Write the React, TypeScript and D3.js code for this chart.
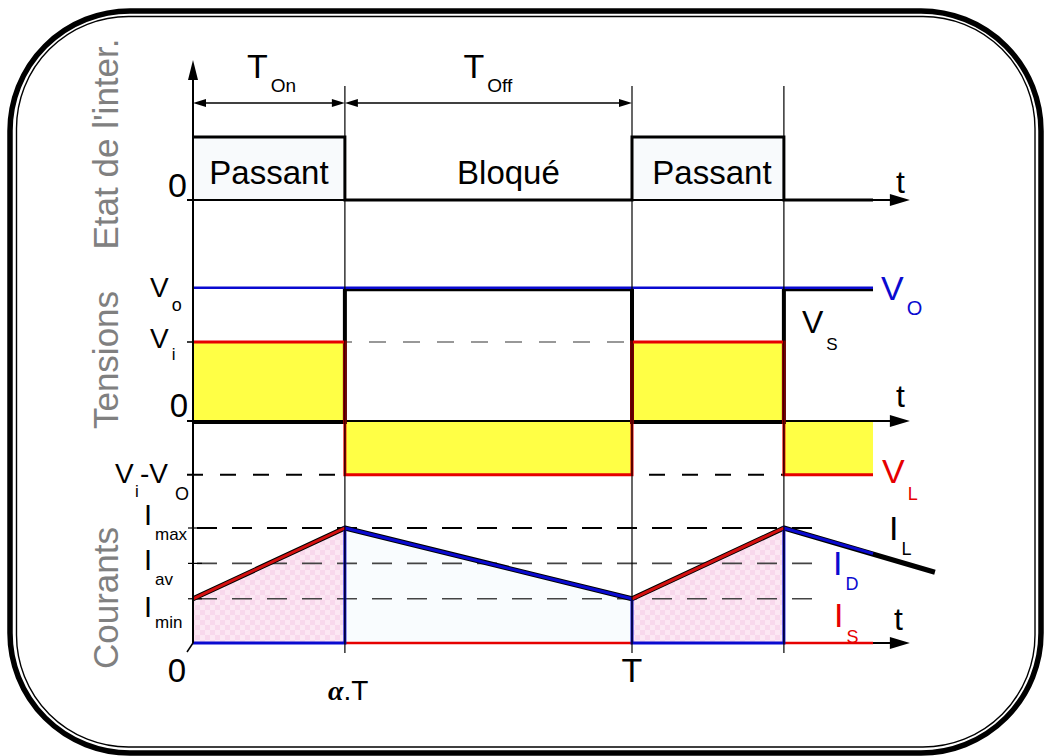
import React from "react";
import * as d3 from "d3";

// time in units of the period T
const ALPHA = 0.346;
const T_AXIS_END = 1.633;
const T_WAVE_END = 1.549;
const T_DASH_END = 1.428;
const guideTimes = [ALPHA, 1, 1 + ALPHA];

// switch state (1 = Passant, 0 = Bloqué)
const stateT = [0, ALPHA, ALPHA, 1, 1, 1 + ALPHA, 1 + ALPHA, T_WAVE_END];
const stateValues = [1, 1, 0, 0, 1, 1, 0, 0];
const stateLabels = ["Passant", "Bloqué", "Passant"];

// voltages, in units of Vi
const Vi = 1;
const Vo = 1.68;
const vT = [0, ALPHA, ALPHA, 1, 1, 1 + ALPHA, 1 + ALPHA, T_WAVE_END];
const vsValues = [0, 0, Vo, Vo, 0, 0, Vo, Vo];
const vlValues = [Vi, Vi, Vi - Vo, Vi - Vo, Vi, Vi, Vi - Vo, Vi - Vo];

// currents
const Imin = 1.0;
const Iav = 1.8;
const Imax = 2.6;
const ilT = [0, ALPHA, 1, 1 + ALPHA, 1.69];
const ilValues = [Imin, Imax, Imin, Imax, 1.6];
const idT = [0, ALPHA, ALPHA, 1, 1, 1 + ALPHA, 1 + ALPHA, T_WAVE_END];
const idValues = [0, 0, Imax, Imin, 0, 0, Imax, 2.02];
const isRamps = [
  [[0, Imin], [ALPHA, Imax]],
  [[1, Imin], [1 + ALPHA, Imax]],
];
const isZero = [
  [ALPHA, 1],
  [1 + ALPHA, T_WAVE_END],
];

const FONT = "'Liberation Sans', Arial, Helvetica, sans-serif";
const BLUE = "#0a0ad0";
const RED = "#e60000";
const YELLOW = "#ffff45";

const zip = (a: number[], b: number[]) => a.map((t, i) => [t, b[i]] as [number, number]);

function Arrow({ x, y, dir, len = 20, half = 6 }: { x: number; y: number; dir: string; len?: number; half?: number }) {
  let pts = "";
  if (dir === "right") pts = `${x},${y} ${x - len},${y - half} ${x - len},${y + half}`;
  if (dir === "left") pts = `${x},${y} ${x + len},${y - half} ${x + len},${y + half}`;
  if (dir === "up") pts = `${x},${y} ${x - half},${y + len} ${x + half},${y + len}`;
  return <polygon points={pts} fill="#000" />;
}

function Sub({ x, y, main, sub, size, subSize, dx, dy, color = "#000" }: any) {
  return (
    <text x={x} y={y} fontSize={size} fill={color} fontFamily={FONT}>
      {main}
      <tspan dx={dx} dy={dy} fontSize={subSize}>{sub}</tspan>
    </text>
  );
}

export default function App() {
  const x = d3.scaleLinear().domain([0, 1]).range([193, 632]);
  const yS = d3.scaleLinear().domain([0, 1]).range([200, 137]);
  const yV = d3.scaleLinear().domain([0, Vi]).range([421, 342]);
  const yI = d3.scaleLinear().domain([0, Imax]).range([643, 528]);

  const lineS = d3.line<[number, number]>().x((d) => x(d[0])).y((d) => yS(d[1]));
  const lineV = d3.line<[number, number]>().x((d) => x(d[0])).y((d) => yV(d[1]));
  const lineI = d3.line<[number, number]>().x((d) => x(d[0])).y((d) => yI(d[1]));
  const areaV = d3.area<[number, number]>().x((d) => x(d[0])).y0(yV(0)).y1((d) => yV(d[1]));
  const areaI = d3.area<[number, number]>().x((d) => x(d[0])).y0(yI(0)).y1((d) => yI(d[1]));

  const x0 = x(0);
  const xAxisEnd = x(T_AXIS_END);
  const xWaveEnd = x(T_WAVE_END);
  const xDashEnd = x(T_DASH_END);

  // voltage fill segments (between 0 and VL)
  const vSegs: [number, number][][] = [];
  for (let i = 0; i < vT.length; i += 2) {
    vSegs.push([[vT[i], vlValues[i]], [vT[i + 1], vlValues[i + 1]]]);
  }

  const stateSpans = [[0, ALPHA], [ALPHA, 1], [1, 1 + ALPHA]];
  const labelShift = [0, 20, 4];

  return (
    <svg width={1045} height={756} style={{ position: "absolute", left: 0, top: 0, background: "#fff" }} fontFamily={FONT}>
      <defs>
        <pattern id="chk" width={10} height={10} patternUnits="userSpaceOnUse">
          <rect width={10} height={10} fill="#fce7f3" />
          <rect width={5} height={5} fill="#f8d8ec" />
          <rect x={5} y={5} width={5} height={5} fill="#f8d8ec" />
        </pattern>
      </defs>

      {/* frame */}
      <rect x={10} y={11} width={1031} height={742} rx={120} fill="none" stroke="#000" strokeWidth={5.5} />
      <rect x={16.5} y={16.5} width={1018.5} height={730.5} rx={112} fill="none" stroke="#000" strokeWidth={1.4} />

      {/* side titles */}
      {[
        ["Etat de l'inter.", 144],
        ["Tensions", 360],
        ["Courants", 598],
      ].map(([t, cy]) => (
        <text key={t as string} transform={`translate(118,${cy}) rotate(-90)`} textAnchor="middle" fontSize={35} fill="#808080">
          {t}
        </text>
      ))}

      {/* ---------- switch state ---------- */}
      {stateSpans.map((s, i) =>
        i % 2 === 0 ? (
          <rect key={i} x={x(s[0])} y={yS(1)} width={x(s[1]) - x(s[0])} height={yS(0) - yS(1)} fill="#f8fafc" />
        ) : null
      )}
      <line x1={x0 - 6} x2={xAxisEnd - 18} y1={yS(0)} y2={yS(0)} stroke="#000" strokeWidth={2} />
      <Arrow x={xAxisEnd} y={yS(0)} dir="right" />
      <path d={lineS(zip(stateT, stateValues)) || ""} fill="none" stroke="#000" strokeWidth={3} />
      {stateSpans.map((s, i) => (
        <text key={i} x={(x(s[0]) + x(s[1])) / 2 + labelShift[i]} y={184} textAnchor="middle" fontSize={33}>
          {stateLabels[i]}
        </text>
      ))}
      <text x={187} y={197} textAnchor="end" fontSize={34}>0</text>
      <text x={896} y={193} fontSize={32}>t</text>

      {/* durations */}
      <line x1={x0 + 10} x2={x(ALPHA) - 10} y1={103} y2={103} stroke="#000" strokeWidth={1.6} />
      <Arrow x={x0} y={103} dir="left" len={13} half={4} />
      <Arrow x={x(ALPHA)} y={103} dir="right" len={13} half={4} />
      <line x1={x(ALPHA) + 10} x2={x(1) - 10} y1={103} y2={103} stroke="#000" strokeWidth={1.6} />
      <Arrow x={x(ALPHA)} y={103} dir="left" len={13} half={4} />
      <Arrow x={x(1)} y={103} dir="right" len={13} half={4} />
      <Sub x={x(ALPHA / 2) - 22} y={78} main="T" sub="On" size={34} subSize={19} dx={3} dy={14} />
      <Sub x={x((1 + ALPHA) / 2) - 25} y={78} main="T" sub="Off" size={34} subSize={19} dx={3} dy={14} />

      {/* ---------- voltages ---------- */}
      <line x1={x0} x2={x(1 + ALPHA)} y1={yV(Vi)} y2={yV(Vi)} stroke="#777" strokeWidth={1.6} strokeDasharray="17 17" strokeDashoffset={-6} />
      <line x1={x0 - 6} x2={x0} y1={yV(Vi)} y2={yV(Vi)} stroke="#000" strokeWidth={1.5} />
      <line x1={x0 - 6} x2={x(1 + ALPHA)} y1={yV(Vi - Vo)} y2={yV(Vi - Vo)} stroke="#000" strokeWidth={2} strokeDasharray="16 17" />
      {vSegs.map((s, i) => (
        <path key={i} d={areaV(s) || ""} fill={YELLOW} />
      ))}
      <line x1={x0 - 6} x2={xAxisEnd - 18} y1={yV(0)} y2={yV(0)} stroke="#000" strokeWidth={2} />
      <Arrow x={xAxisEnd} y={yV(0)} dir="right" />
      <path d={lineV(zip(vT, vsValues)) || ""} fill="none" stroke="#000" strokeWidth={4} transform="translate(0,1)" />
      <line x1={x0} x2={xWaveEnd} y1={yV(Vo)} y2={yV(Vo)} stroke={BLUE} strokeWidth={2.5} transform="translate(0,-0.5)" />
      <path d={lineV(zip(vT, vlValues)) || ""} fill="none" stroke={RED} strokeWidth={3} />

      <Sub x={150} y={297} main="V" sub="o" size={28} subSize={18} dx={3} dy={14} />
      <Sub x={150} y={348} main="V" sub="i" size={28} subSize={17} dx={3} dy={12} />
      <text x={188} y={417} textAnchor="end" fontSize={33}>0</text>
      <text x={115} y={483} fontSize={28}>V</text>
      <text x={135} y={497} fontSize={17}>i</text>
      <text x={140} y={483} fontSize={28}>-V</text>
      <text x={175} y={500} fontSize={18}>O</text>
      <text x={896} y={407} fontSize={32}>t</text>
      <Sub x={881} y={300} main="V" sub="O" size={34} subSize={20} dx={3} dy={15} color={BLUE} />
      <Sub x={802} y={333} main="V" sub="S" size={32} subSize={17} dx={3} dy={17} />
      <Sub x={882} y={483} main="V" sub="L" size={34} subSize={18} dx={3} dy={17} color={RED} />

      {/* ---------- currents ---------- */}
      {isRamps.map((r, i) => (
        <path key={i} d={areaI(zip(ilT, ilValues).filter((d) => d[0] >= r[0][0] && d[0] <= r[1][0])) || ""} fill="url(#chk)" />
      ))}
      <path d={areaI(zip(ilT, ilValues).filter((d) => d[0] >= ALPHA && d[0] <= 1)) || ""} fill="#f9fcfe" />
      {[Imax, Iav, Imin].map((v, i) => (
        <g key={i}>
          <line
            x1={x0}
            x2={xDashEnd}
            y1={yI(v)}
            y2={yI(v)}
            stroke={i === 0 ? "#000" : "#444"}
            strokeWidth={i === 0 ? 2.2 : 1.6}
            strokeDasharray="20 15"
            strokeDashoffset={-4}
          />
          <line x1={x0 - 5} x2={x0 + 9} y1={yI(v)} y2={yI(v)} stroke="#000" strokeWidth={1.2} />
        </g>
      ))}
      <line x1={x0} x2={xAxisEnd - 18} y1={yI(0)} y2={yI(0)} stroke="#000" strokeWidth={2} />
      <Arrow x={xAxisEnd} y={yI(0)} dir="right" />
      <path d={lineI(zip(ilT, ilValues)) || ""} fill="none" stroke="#000" strokeWidth={5} strokeLinejoin="round" />
      {isZero.map((z, i) => (
        <line key={i} x1={x(z[0])} x2={x(z[1])} y1={yI(0)} y2={yI(0)} stroke={RED} strokeWidth={2.5} />
      ))}
      <path d={lineI(zip(idT, idValues)) || ""} fill="none" stroke={BLUE} strokeWidth={3} />
      {isRamps.map((r, i) => (
        <path key={i} d={lineI(r as [number, number][]) || ""} fill="none" stroke="#d41010" strokeWidth={3} />
      ))}

      {/* vertical axis */}
      <line x1={x0} x2={x0} y1={yI(0)} y2={78} stroke="#000" strokeWidth={2} />
      <Arrow x={x0} y={60} dir="up" len={20} half={5} />
      <line x1={x0} x2={x0 - 6} y1={yI(0)} y2={yI(0) + 9} stroke="#000" strokeWidth={1.5} />

      {/* guide lines */}
      {guideTimes.map((t) => (
        <line key={t} x1={x(t)} x2={x(t)} y1={86} y2={653} stroke="#000" strokeWidth={1.2} />
      ))}

      {/* current labels */}
      {[
        ["max", Imax, 525, 540],
        ["av", Iav, 570, 585],
        ["min", Imin, 617, 628],
      ].map(([s, , yb, ys]) => (
        <g key={s as string}>
          <text x={144} y={yb as number} fontSize={29}>I</text>
          <text x={155} y={ys as number} fontSize={17}>{s}</text>
        </g>
      ))}
      <text x={186} y={682} textAnchor="end" fontSize={33}>0</text>
      <text x={x(1)} y={682} textAnchor="middle" fontSize={34}>T</text>
      <text x={x(ALPHA) - 17} y={700} fontSize={28}>
        <tspan fontFamily="'Liberation Serif', 'DejaVu Serif', serif" fontStyle="italic" fontWeight="bold">α</tspan>
        <tspan>.T</tspan>
      </text>
      <Sub x={889} y={540} main="I" sub="L" size={34} subSize={18} dx={3} dy={15} />
      <Sub x={833} y={575} main="I" sub="D" size={34} subSize={18} dx={3} dy={15} color={BLUE} />
      <Sub x={834} y={627} main="I" sub="S" size={34} subSize={18} dx={3} dy={16} color={RED} />
      <text x={894} y={630} fontSize={32}>t</text>
    </svg>
  );
}
